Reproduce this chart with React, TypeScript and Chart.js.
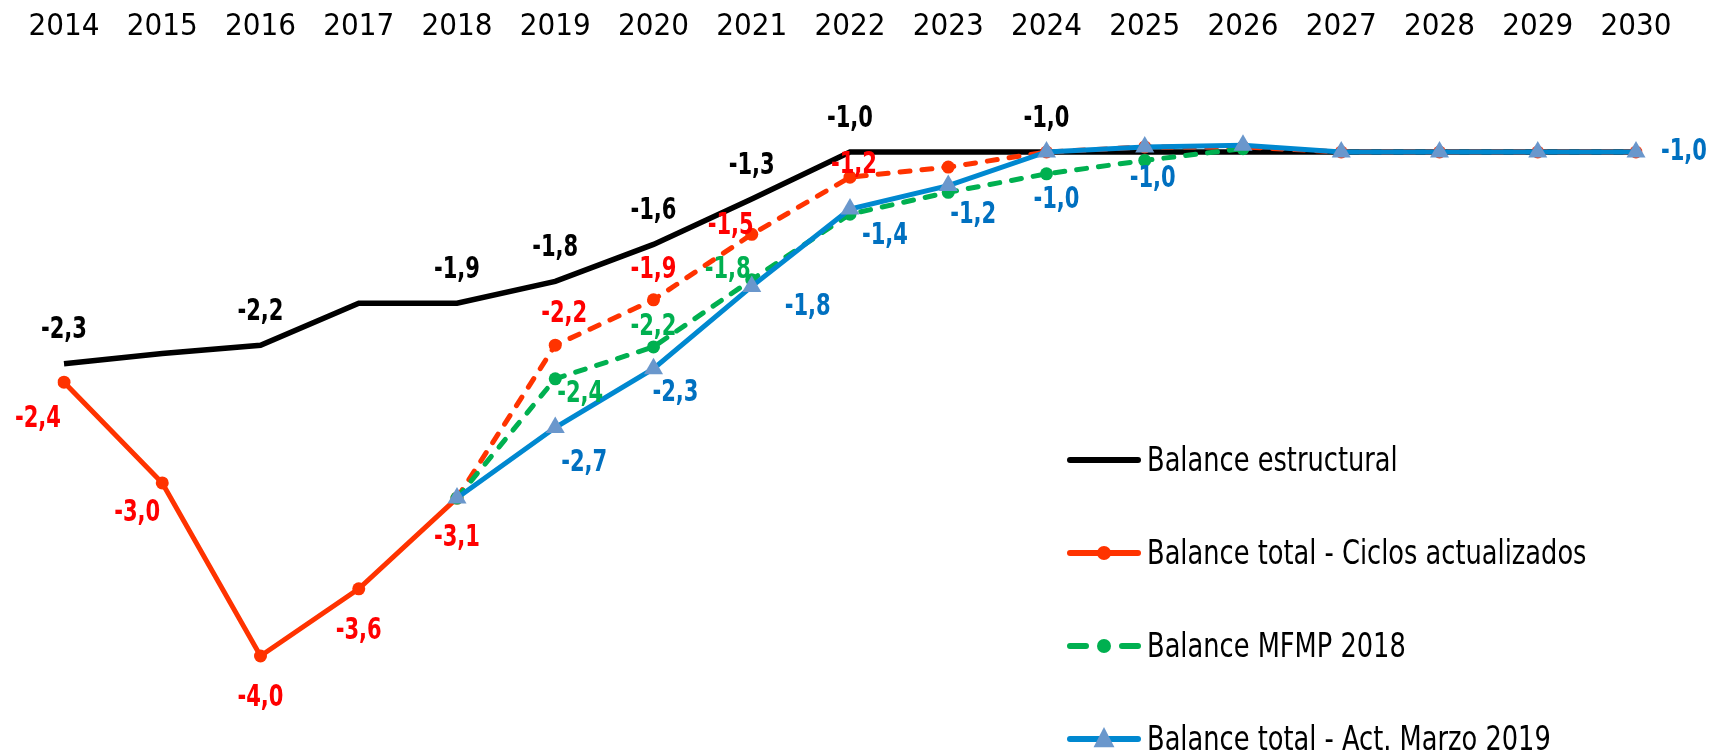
import React, { useEffect, useRef } from 'react';
import { Chart, registerables } from 'chart.js';
Chart.register(...registerables);

// ---------- data ----------
const years = ['2014', '2015', '2016', '2017', '2018', '2019', '2020', '2021', '2022', '2023', '2024', '2025', '2026', '2027', '2028', '2029', '2030'];

const estructural = [-2.26, -2.2, -2.15, -1.9, -1.9, -1.77, -1.55, -1.28, -1.0, -1.0, -1.0, -1.0, -1.0, -1.0, -1.0, -1.0, -1.0];
const estructuralLabels = ['-2,3', null, '-2,2', null, '-1,9', '-1,8', '-1,6', '-1,3', '-1,0', null, '-1,0', null, null, null, null, null, null];

const ciclos = [-2.37, -2.97, -4.0, -3.6, -3.06, -2.15, -1.88, -1.49, -1.15, -1.09, -1.0, -0.97, -0.97, -1.0, -1.0, -1.0, -1.0];
const ciclosLabels = ['-2,4', '-3,0', '-4,0', '-3,6', '-3,1', '-2,2', '-1,9', '-1,5', '-1,2', null, null, null, null, null, null, null, null];

const mfmp = [null, null, null, null, -3.06, -2.35, -2.16, -1.76, -1.37, -1.24, -1.13, -1.05, -0.98, null, null, null, null];
const mfmpLabels = [null, null, null, null, null, '-2,4', '-2,2', '-1,8', null, null, null, null, null, null, null, null, null];

const marzo = [null, null, null, null, -3.06, -2.64, -2.29, -1.8, -1.34, -1.2, -1.0, -0.97, -0.96, -1.0, -1.0, -1.0, -1.0];
const marzoLabels = [null, null, null, null, null, '-2,7', '-2,3', '-1,8', '-1,4', '-1,2', '-1,0', '-1,0', null, null, null, null, '-1,0'];

const seriesNames = ['Balance estructural', 'Balance total - Ciclos actualizados', 'Balance MFMP 2018', 'Balance total - Act. Marzo 2019'];

// ---------- label placement (pixel offsets from the point) ----------
const estructuralLabelOffsets = estructuralLabels.map(() => [0, -35]);
const ciclosLabelOffsets = [[-26, 35], [-25, 28], [0, 40], [0, 40], [0, 38], [9, -33], [0, -32], [-21, -10], [4, -14], [0, 0], [0, 0], [0, 0], [0, 0], [0, 0], [0, 0], [0, 0], [0, 0]];
const mfmpLabelOffsets = [[0, 0], [0, 0], [0, 0], [0, 0], [0, 0], [25, 13], [0, -22], [-24, -11], [0, 0], [0, 0], [0, 0], [0, 0], [0, 0], [0, 0], [0, 0], [0, 0], [0, 0]];
const marzoLabelOffsets = [[0, 0], [0, 0], [0, 0], [0, 0], [0, 0], [29, 34], [22, 22], [56, 19], [35, 25], [25, 28], [10, 46], [8, 30], [0, 0], [0, 0], [0, 0], [0, 0], [48, -2]];

const FONT = "'DejaVu Sans Condensed', 'DejaVu Sans', sans-serif";

const BLACK = '#000000';
const RED = '#FF3300';
const RED_TXT = '#FF0000';
const GREEN = '#00B050';
const BLUE = '#0088D0';
const BLUE_TXT = '#0070C0';
const BLUE_MARK = '#6A97CC';
const DASH = [10, 12];

const pointLabelPlugin = {
  id: 'pointLabelPlugin',
  afterDatasetsDraw(chart: any) {
    const ctx = chart.ctx;
    chart.data.datasets.forEach((ds: any, i: number) => {
      const texts = ds.labelTexts;
      const offs = ds.labelOffsets;
      if (!texts) return;
      const meta = chart.getDatasetMeta(i);
      texts.forEach((t: string | null, j: number) => {
        if (!t) return;
        const el = meta.data[j];
        if (!el) return;
        const o = offs[j] || [0, 0];
        ctx.save();
        ctx.font = `bold 30px ${FONT}`;
        ctx.fillStyle = ds.labelColor;
        ctx.textAlign = 'center';
        ctx.textBaseline = 'middle';
        ctx.translate(el.x + o[0], el.y + o[1] + 2);
        ctx.scale(0.78, 1);
        ctx.fillText(t, 0, 0);
        ctx.restore();
      });
    });
  },
};

const legendPlugin = {
  id: 'customLegend',
  afterDraw(chart: any) {
    const ctx = chart.ctx;
    const x0 = 1067;
    const x1 = 1141;
    const tx = 1147;
    const ys = [460, 553, 646, 739];
    chart.data.datasets.forEach((ds: any, i: number) => {
      const y = ys[i];
      const xm = (x0 + x1) / 2;
      ctx.save();
      ctx.strokeStyle = ds.borderColor;
      ctx.lineWidth = 6;
      ctx.lineCap = 'round';
      if (ds.legendKind === 'dashed') {
        ctx.beginPath();
        ctx.moveTo(x0 + 3, y);
        ctx.lineTo(x0 + 19, y);
        ctx.moveTo(x1 - 19, y);
        ctx.lineTo(x1 - 3, y);
        ctx.stroke();
      } else {
        ctx.beginPath();
        ctx.moveTo(x0 + 3, y);
        ctx.lineTo(x1 - 3, y);
        ctx.stroke();
      }
      if (ds.legendKind === 'dot' || ds.legendKind === 'dashed') {
        ctx.fillStyle = ds.pointBackgroundColor;
        ctx.beginPath();
        ctx.arc(xm, y, 7, 0, Math.PI * 2);
        ctx.fill();
      }
      if (ds.legendKind === 'tri') {
        ctx.fillStyle = ds.pointBackgroundColor;
        const r = 11;
        ctx.beginPath();
        ctx.moveTo(xm, y - r * 1.1);
        ctx.lineTo(xm + r * 0.95, y + r * 0.75);
        ctx.lineTo(xm - r * 0.95, y + r * 0.75);
        ctx.closePath();
        ctx.fill();
      }
      ctx.fillStyle = '#000';
      ctx.font = `34px ${FONT}`;
      ctx.textAlign = 'left';
      ctx.textBaseline = 'middle';
      ctx.translate(tx, y + 2);
      ctx.scale(0.84, 1);
      ctx.fillText(ds.label, 0, 0);
      ctx.restore();
    });
  },
};

export default function App() {
  const ref = useRef<HTMLCanvasElement | null>(null);

  useEffect(() => {
    if (!ref.current) return;
    const chart = new Chart(ref.current, {
      type: 'line',
      data: {
        labels: years,
        datasets: [
          {
            label: seriesNames[0],
            data: estructural,
            borderColor: BLACK,
            backgroundColor: BLACK,
            borderWidth: 5.5,
            pointRadius: 0,
            order: 3,
            legendKind: 'line',
            labelTexts: estructuralLabels,
            labelOffsets: estructuralLabelOffsets,
            labelColor: BLACK,
          } as any,
          {
            label: seriesNames[1],
            data: ciclos,
            borderColor: RED,
            backgroundColor: RED,
            pointBackgroundColor: RED,
            pointBorderColor: RED,
            borderWidth: 5,
            borderCapStyle: 'round',
            pointRadius: 6.5,
            pointBorderWidth: 0,
            order: 2,
            segment: {
              borderDash: (c: any) => (c.p0DataIndex >= 4 ? DASH : undefined),
            },
            legendKind: 'dot',
            labelTexts: ciclosLabels,
            labelOffsets: ciclosLabelOffsets,
            labelColor: RED_TXT,
          } as any,
          {
            label: seriesNames[2],
            data: mfmp,
            borderColor: GREEN,
            backgroundColor: GREEN,
            pointBackgroundColor: GREEN,
            pointBorderColor: GREEN,
            borderWidth: 5,
            borderCapStyle: 'round',
            borderDash: DASH,
            pointRadius: 6.5,
            pointBorderWidth: 0,
            order: 1,
            legendKind: 'dashed',
            labelTexts: mfmpLabels,
            labelOffsets: mfmpLabelOffsets,
            labelColor: GREEN,
          } as any,
          {
            label: seriesNames[3],
            data: marzo,
            borderColor: BLUE,
            backgroundColor: BLUE_MARK,
            pointBackgroundColor: BLUE_MARK,
            pointBorderColor: BLUE_MARK,
            borderWidth: 5,
            pointStyle: 'triangle',
            pointRadius: 11,
            pointBorderWidth: 0,
            order: 0,
            legendKind: 'tri',
            labelTexts: marzoLabels,
            labelOffsets: marzoLabelOffsets,
            labelColor: BLUE_TXT,
          } as any,
        ],
      },
      options: {
        responsive: false,
        animation: false,
        spanGaps: false,
        layout: { padding: { left: 64, right: 93, top: 4, bottom: 10 } },
        plugins: {
          legend: { display: false },
          tooltip: { enabled: false },
          title: { display: false },
        },
        scales: {
          x: {
            position: 'top',
            offset: false,
            grid: { display: false, drawTicks: false },
            border: { display: false },
            ticks: {
              color: '#000',
              font: { family: FONT, size: 31, lineHeight: 1.2 },
              padding: 22,
              maxRotation: 0,
              autoSkip: false,
            },
            afterFit: (s: any) => {
              s.height = 64;
            },
          },
          y: {
            display: false,
            min: -4.5,
            max: -0.5,
          },
        },
      },
      plugins: [pointLabelPlugin, legendPlugin],
    } as any);
    return () => chart.destroy();
  }, []);

  return (
    <div style={{ position: 'absolute', left: 0, top: 0, width: 1729, height: 751, background: '#fff' }}>
      <canvas ref={ref} width={1729} height={751} style={{ display: 'block', width: 1729, height: 751 }} />
    </div>
  );
}
